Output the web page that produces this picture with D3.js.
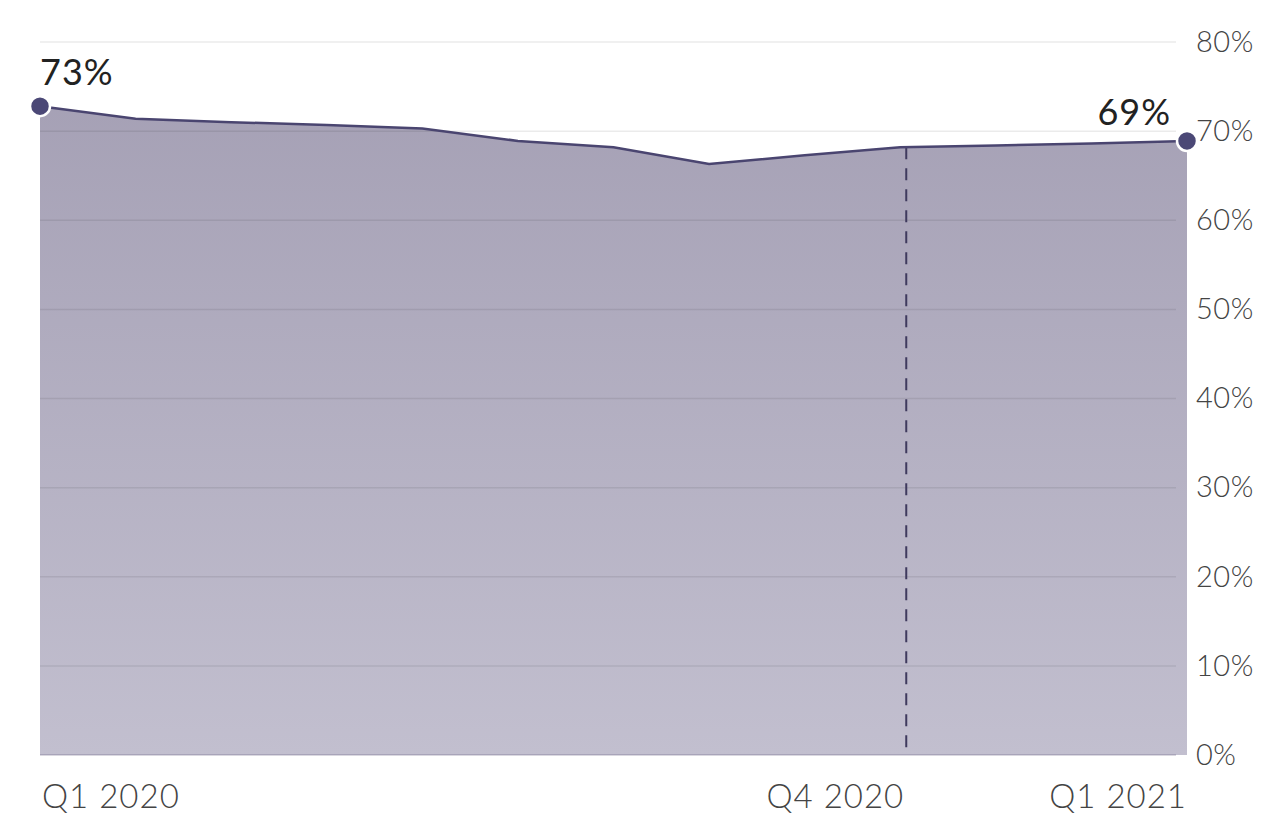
<!DOCTYPE html>
<html>
<head>
<meta charset="utf-8">
<script src="https://cdn.jsdelivr.net/npm/d3@7"></script>
<style>
  body { margin: 0; background: #fff; }
  text { font-family: Lato, "Open Sans", sans-serif; }
</style>
</head>
<body>
<div id="chart"></div>
<script>
// Monthly share, Jan 2020 .. Jan 2021
const months = ["2020-01","2020-02","2020-03","2020-04","2020-05","2020-06","2020-07",
                "2020-08","2020-09","2020-10","2020-11","2020-12","2021-01"];
const values = [72.8, 71.4, 71.0, 70.7, 70.3, 68.9, 68.2, 66.3, 67.3, 68.2, 68.4, 68.6, 68.9];
const yTicks = [0, 10, 20, 30, 40, 50, 60, 70, 80];
const xLabels = [
  { month: "2020-01", text: "Q1 2020", anchor: "start" },
  { month: "2020-10", text: "Q4 2020", anchor: "end" },
  { month: "2021-01", text: "Q1 2021", anchor: "end" }
];
const markerMonth = "2020-10";

const data = months.map((m, i) => ({ month: m, value: values[i] }));

const W = 1286, H = 818;
const svg = d3.select("#chart").append("svg")
    .attr("width", W)
    .attr("height", H);

const x = d3.scalePoint()
    .domain(months)
    .range([40, 1187]);

const y = d3.scaleLinear()
    .domain([0, 80])
    .range([755, 42]);

// gradient for the area
const grad = svg.append("defs").append("linearGradient")
    .attr("id", "fillGrad")
    .attr("gradientUnits", "userSpaceOnUse")
    .attr("x1", 0).attr("x2", 0)
    .attr("y1", y(80)).attr("y2", y(0));
grad.append("stop").attr("offset", "0%").attr("stop-color", "#a39eb3");
grad.append("stop").attr("offset", "100%").attr("stop-color", "#c2bfcf");

const area = d3.area()
    .x(d => x(d.month))
    .y0(y(0))
    .y1(d => y(d.value));

const line = d3.line()
    .x(d => x(d.month))
    .y(d => y(d.value));

svg.append("path")
    .datum(data)
    .attr("d", area)
    .attr("fill", "url(#fillGrad)");

// gridlines (drawn over the area, faint)
svg.append("g")
    .selectAll("line")
    .data(yTicks)
    .join("line")
    .attr("x1", 40)
    .attr("x2", 1176)
    .attr("y1", d => y(d))
    .attr("y2", d => y(d))
    .attr("stroke", d => d === 0 ? "rgba(60,50,90,0.25)" : "rgba(0,0,0,0.08)")
    .attr("stroke-width", 1.5);

// right axis
const yAxis = d3.axisRight(y)
    .tickValues(yTicks)
    .tickSize(0)
    .tickPadding(0)
    .tickFormat(d => d + "%");

svg.append("g")
    .attr("transform", "translate(1196,0)")
    .call(yAxis)
    .call(g => g.select(".domain").remove())
    .selectAll("text")
    .attr("font-size", 29)
    .attr("font-weight", 300)
    .attr("letter-spacing", 0.5)
    .attr("fill", "#444");

// dashed marker at Q4 2020
const mk = data.find(d => d.month === markerMonth);
svg.append("line")
    .attr("x1", x(mk.month) + 6)
    .attr("x2", x(mk.month) + 6)
    .attr("y1", y(mk.value))
    .attr("y2", y(0))
    .attr("stroke", "#3f3a5e")
    .attr("stroke-width", 2)
    .attr("stroke-dasharray", "12,9");

svg.append("path")
    .datum(data)
    .attr("d", line)
    .attr("fill", "none")
    .attr("stroke", "#4a4570")
    .attr("stroke-width", 2.5);

// end points
const ends = [data[0], data[data.length - 1]];
svg.selectAll("circle")
    .data(ends)
    .join("circle")
    .attr("cx", d => x(d.month))
    .attr("cy", d => y(d.value))
    .attr("r", 10)
    .attr("fill", "#4b4876")
    .attr("stroke", "#fff")
    .attr("stroke-width", 2.5);

svg.append("text")
    .attr("x", x(ends[0].month))
    .attr("y", y(ends[0].value) - 21)
    .attr("font-size", 36)
    .attr("letter-spacing", 1)
    .attr("fill", "#222")
    .text(Math.round(ends[0].value) + "%");

svg.append("text")
    .attr("x", x(ends[1].month) - 16)
    .attr("y", y(ends[1].value) - 16)
    .attr("text-anchor", "end")
    .attr("font-size", 36)
    .attr("letter-spacing", 1)
    .attr("fill", "#222")
    .text(Math.round(ends[1].value) + "%");

// x labels
svg.append("g")
    .selectAll("text")
    .data(xLabels)
    .join("text")
    .attr("x", d => x(d.month) + (d.anchor === "start" ? 2 : d.month === markerMonth ? 4 : 0))
    .attr("y", 808)
    .attr("text-anchor", d => d.anchor)
    .attr("font-size", 33)
    .attr("font-weight", 300)
    .attr("letter-spacing", 1)
    .attr("fill", "#444")
    .text(d => d.text);
</script>
</body>
</html>
